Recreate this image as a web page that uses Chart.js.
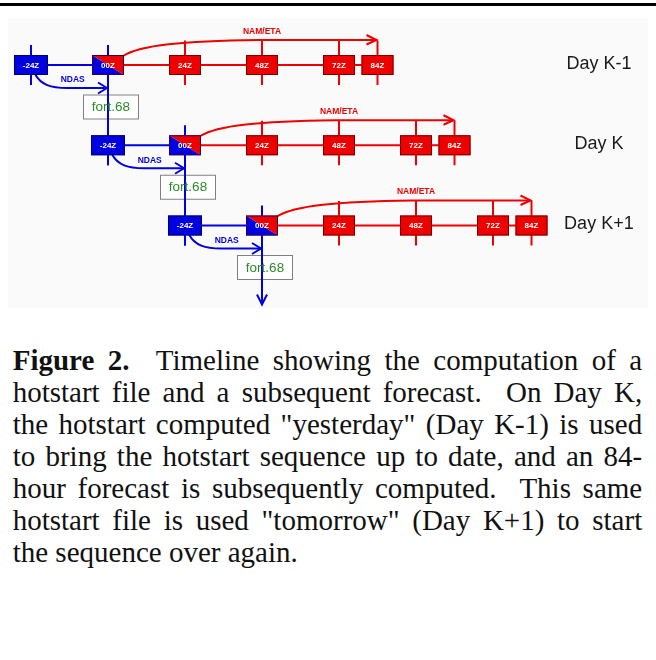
<!DOCTYPE html>
<html>
<head>
<meta charset="utf-8">
<script src="https://cdn.jsdelivr.net/npm/chart.js@4"></script>
<style>
  html, body { margin: 0; padding: 0; background: #ffffff; }
  body { width: 656px; height: 660px; position: relative; overflow: hidden; }
  #rule { position: absolute; left: 0; top: 3px; width: 656px; height: 3px; background: #000; }
  #c { position: absolute; left: 0; top: 0; }
  #cap {
    position: absolute; left: 12.7px; top: 344px; width: 629.5px;
    font-family: 'Liberation Serif', 'Times New Roman', serif; font-size: 29px; line-height: 32px;
    color: #111;
  }
  #cap .j { text-align: justify; text-align-last: justify; white-space: nowrap; }
  #cap .l { text-align: left; white-space: nowrap; }
</style>
</head>
<body>
<div id="rule"></div>
<canvas id="c" width="656" height="320"></canvas>
<div id="cap">
  <div class="j"><b>Figure 2.</b>&nbsp; Timeline showing the computation of a</div>
  <div class="j">hotstart file and a subsequent forecast.&nbsp; On Day K,</div>
  <div class="j">the hotstart computed "yesterday" (Day K-1) is used</div>
  <div class="j">to bring the hotstart sequence up to date, and an 84-</div>
  <div class="j">hour forecast is subsequently computed.&nbsp; This same</div>
  <div class="j">hotstart file is used "tomorrow" (Day K+1) to start</div>
  <div class="l">the sequence over again.</div>
</div>
<script>
// ---- data ----
const dayLabels = ['Day K-1', 'Day K', 'Day K+1'];
const dayStartHours = [0, 24, 48];          // hour of each day's 00Z on the common time axis
const stepHours = [-24, 0, 24, 48, 72, 84];  // hours relative to 00Z of the day
const stepLabels = ['-24Z', '00Z', '24Z', '48Z', '72Z', '84Z'];
const nowcastLabel = 'NDAS';
const forecastLabel = 'NAM/ETA';
const hotstartFile = 'fort.68';
const dayLabelHour = 153;

// ---- styles ----
const RED = '#ee0000', BLUE = '#0000e0';
const RED_EDGE = '#7a0000', BLUE_EDGE = '#00006a';

const datasets = [];
dayStartHours.forEach((o, r) => {
  datasets.push({
    label: dayLabels[r] + ' ' + nowcastLabel,
    data: stepHours.filter(h => h <= 0).map(h => ({ x: o + h, y: r })),
    showLine: true, borderColor: BLUE, borderWidth: 2, pointRadius: 0
  });
  datasets.push({
    label: dayLabels[r] + ' ' + forecastLabel,
    data: stepHours.filter(h => h >= 0).map(h => ({ x: o + h, y: r })),
    showLine: true, borderColor: RED, borderWidth: 2, pointRadius: 0
  });
});

function line(ctx, x1, y1, x2, y2) { ctx.beginPath(); ctx.moveTo(x1, y1); ctx.lineTo(x2, y2); ctx.stroke(); }

const diagram = {
  id: 'diagram',
  beforeDatasetsDraw(chart) {
    const ctx = chart.ctx;
    ctx.save();
    ctx.fillStyle = '#fafafa';
    ctx.fillRect(8, 18, 640, 290);
    ctx.restore();
  },
  afterDatasetsDraw(chart) {
    const ctx = chart.ctx, xs = chart.scales.x, ys = chart.scales.y;
    ctx.save();
    ctx.lineWidth = 2;
    ctx.lineCap = 'butt';
    const n = dayStartHours.length;
    // ticks and curves
    dayStartHours.forEach((o, r) => {
      const cy = ys.getPixelForValue(r);
      const X = h => xs.getPixelForValue(o + h);
      const x0 = X(0), xm = X(-24), xEnd = X(84);
      // red ticks
      ctx.strokeStyle = RED;
      stepHours.filter(h => h > 0).forEach(h => line(ctx, X(h), cy - 24.5, X(h), cy + 20));
      // red forecast curve
      ctx.beginPath();
      ctx.moveTo(x0 + 15, cy - 9);
      ctx.bezierCurveTo(x0 + 32, cy - 20, x0 + 75, cy - 24, x0 + 150, cy - 25);
      ctx.lineTo(xEnd - 1, cy - 25);
      ctx.stroke();
      ctx.beginPath();
      ctx.moveTo(xEnd - 11, cy - 30);
      ctx.lineTo(xEnd - 1, cy - 25);
      ctx.lineTo(xEnd - 11, cy - 20.5);
      ctx.stroke();
      // blue -24Z tick
      ctx.strokeStyle = BLUE;
      line(ctx, xm, cy - 20, xm, cy + 20);
      // NDAS curve
      ctx.beginPath();
      ctx.moveTo(xm + 4, cy + 9);
      ctx.bezierCurveTo(xm + 10, cy + 20, xm + 20, cy + 23, xm + 36, cy + 23);
      ctx.lineTo(x0 - 1, cy + 23);
      ctx.stroke();
      ctx.beginPath();
      ctx.moveTo(x0 - 10, cy + 17.5);
      ctx.lineTo(x0 - 1, cy + 23);
      ctx.lineTo(x0 - 10, cy + 28.5);
      ctx.stroke();
    });
    // hotstart file boxes
    dayStartHours.forEach((o, r) => {
      const cy = ys.getPixelForValue(r);
      const cx = xs.getPixelForValue(o) + 3;
      ctx.fillStyle = '#ffffff';
      ctx.fillRect(cx - 28, cy + 29.5, 56, 25);
      ctx.lineWidth = 1;
      ctx.strokeStyle = '#808080';
      ctx.strokeRect(cx - 27.5, cy + 30, 55, 24);
    });
    // blue 00Z verticals (over the file boxes)
    ctx.lineWidth = 2;
    ctx.strokeStyle = BLUE;
    dayStartHours.forEach((o, r) => {
      const cy = ys.getPixelForValue(r);
      const x0 = xs.getPixelForValue(o);
      if (r < n - 1) {
        line(ctx, x0, cy - 20, x0, ys.getPixelForValue(r + 1) + 20);
      } else {
        line(ctx, x0, cy - 20, x0, cy + 79);
        ctx.beginPath();
        ctx.moveTo(x0 - 5, cy + 69);
        ctx.lineTo(x0, cy + 79);
        ctx.lineTo(x0 + 5, cy + 69);
        ctx.stroke();
      }
    });
    // file labels
    ctx.font = '13.5px "Liberation Sans", Arial, sans-serif';
    ctx.fillStyle = '#2b8a2b';
    ctx.textAlign = 'center';
    ctx.textBaseline = 'middle';
    dayStartHours.forEach((o, r) => {
      const cy = ys.getPixelForValue(r);
      const cx = xs.getPixelForValue(o) + 3;
      ctx.fillText(hotstartFile, cx, cy + 42.5);
    });
    // step boxes
    ctx.lineWidth = 1;
    dayStartHours.forEach((o, r) => {
      const cy = ys.getPixelForValue(r);
      stepHours.forEach((h, i) => {
        const cx = xs.getPixelForValue(o + h);
        const w = h < 0 ? 34 : 32, hh = 20;
        const l = cx - w / 2, t = cy - hh / 2;
        if (h < 0) {
          ctx.fillStyle = BLUE; ctx.fillRect(l, t, w, hh);
          ctx.strokeStyle = BLUE_EDGE; ctx.strokeRect(l + 0.5, t + 0.5, w - 1, hh - 1);
        } else if (h === 0) {
          ctx.fillStyle = BLUE;
          ctx.beginPath(); ctx.moveTo(l, t); ctx.lineTo(l, t + hh); ctx.lineTo(l + w, t + hh); ctx.closePath(); ctx.fill();
          ctx.fillStyle = RED;
          ctx.beginPath(); ctx.moveTo(l, t); ctx.lineTo(l + w, t); ctx.lineTo(l + w, t + hh); ctx.closePath(); ctx.fill();
          ctx.strokeStyle = '#30004a'; ctx.strokeRect(l + 0.5, t + 0.5, w - 1, hh - 1);
        } else {
          ctx.fillStyle = RED; ctx.fillRect(l, t, w, hh);
          ctx.strokeStyle = RED_EDGE; ctx.strokeRect(l + 0.5, t + 0.5, w - 1, hh - 1);
        }
        ctx.fillStyle = '#ffffff';
        ctx.font = 'bold 8px "Liberation Sans", Arial, sans-serif';
        ctx.fillText(stepLabels[i], cx, cy + 0.5);
      });
    });
    // curve labels and day labels
    dayStartHours.forEach((o, r) => {
      const cy = ys.getPixelForValue(r);
      ctx.font = 'bold 8.5px "Liberation Sans", Arial, sans-serif';
      ctx.fillStyle = RED;
      ctx.fillText(forecastLabel, xs.getPixelForValue(o + 48), cy - 33.5);
      ctx.fillStyle = BLUE;
      ctx.fillText(nowcastLabel, xs.getPixelForValue(o - 11), cy + 15);
      ctx.font = '18px "Liberation Sans", Arial, sans-serif';
      ctx.fillStyle = '#1a1a1a';
      ctx.fillText(dayLabels[r], xs.getPixelForValue(dayLabelHour), cy - 1);
    });
    ctx.restore();
  }
};

new Chart(document.getElementById('c'), {
  type: 'scatter',
  data: { datasets },
  options: {
    responsive: false,
    devicePixelRatio: 1,
    animation: false,
    layout: { padding: 0 },
    plugins: { legend: { display: false }, tooltip: { enabled: false } },
    scales: {
      x: { type: 'linear', min: -33.66, max: 170.8, display: false },
      y: { type: 'linear', min: -0.81, max: 3.1776, reverse: true, display: false }
    }
  },
  plugins: [diagram]
});
</script>
</body>
</html>
